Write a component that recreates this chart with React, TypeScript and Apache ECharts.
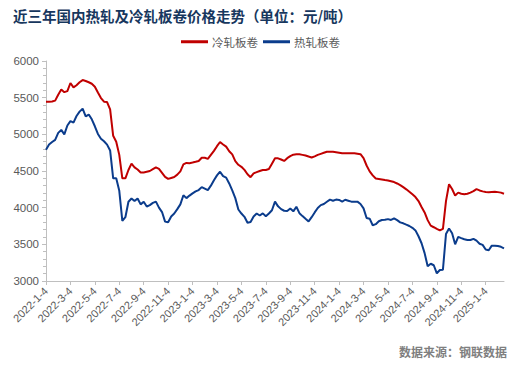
import React, { useEffect, useRef } from "react";
import * as echarts from "echarts";

const titleText = "近三年国内热轧及冷轧板卷价格走势（单位：元/吨）";
const sourceText = "数据来源：钢联数据";
const seriesNames = ["冷轧板卷", "热轧板卷"];

const tickLabels = [
  "2022-1-4", "2022-3-4", "2022-5-4", "2022-7-4", "2022-9-4", "2022-11-4",
  "2023-1-4", "2023-3-4", "2023-5-4", "2023-7-4", "2023-9-4", "2023-11-4",
  "2024-1-4", "2024-3-4", "2024-5-4", "2024-7-4", "2024-9-4", "2024-11-4",
  "2025-1-4",
];
const endDate = "2025-2-19";
const stepsPerTick = 8;

const coldRolled = [
  5445, 5445, 5448, 5460, 5540, 5610, 5575, 5590, 5700, 5640,
  5670, 5710, 5740, 5727, 5710, 5690, 5650, 5570, 5495, 5445,
  5440, 5340, 4980, 4900, 4720, 4400, 4400, 4514, 4600, 4550,
  4520, 4480, 4480, 4490, 4500, 4525, 4550, 4530, 4475, 4420,
  4392, 4405, 4418, 4450, 4495, 4590, 4610, 4607, 4615, 4625,
  4637, 4680, 4680, 4665, 4720, 4775, 4838, 4895, 4862, 4832,
  4770, 4727, 4635, 4585, 4557, 4515, 4455, 4415, 4468, 4484,
  4500, 4514, 4514, 4527, 4600, 4673, 4673, 4657, 4637, 4675,
  4703, 4723, 4727, 4727, 4720, 4711, 4697, 4684, 4700, 4720,
  4734, 4748, 4762, 4764, 4763, 4757, 4750, 4742, 4741, 4741,
  4741, 4741, 4735, 4729, 4675, 4575, 4495, 4440, 4397, 4392,
  4385, 4377, 4370, 4360, 4349, 4330, 4308, 4280, 4250, 4217,
  4182, 4145, 4090, 4010, 3935, 3830, 3755, 3733, 3710, 3690,
  3712, 4090, 4320, 4255, 4165, 4205, 4190, 4184, 4190, 4205,
  4225, 4253, 4235, 4222, 4215, 4210, 4214, 4217, 4212, 4205,
  4190,
];

const hotRolled = [
  4790, 4860, 4895, 4925, 5020, 5060, 5000, 5120, 5180, 5160,
  5250, 5310, 5350, 5245, 5270, 5205, 5110, 5005, 4940, 4905,
  4860, 4780, 4400, 4400, 4230, 3820, 3870, 4080, 4125, 4090,
  4125, 4045, 4080, 4015, 4035, 4065, 4082, 4000, 3940, 3810,
  3800, 3880, 3920, 3980, 4045, 4170, 4130, 4165, 4195, 4222,
  4240, 4280, 4260, 4240, 4300, 4375, 4440, 4490, 4430, 4410,
  4330, 4235, 4130, 3975, 3920, 3875, 3795, 3805, 3880, 3920,
  3893, 3922, 3882, 3920, 3965, 4082, 4018, 3980, 3958, 3955,
  3988, 3950, 4012, 3925, 3885, 3848, 3812, 3870, 3935, 3995,
  4035, 4050, 4080, 4110, 4095, 4110, 4105, 4083, 4108, 4095,
  4082, 4082, 4082, 4050, 3990, 3860, 3850, 3760, 3775, 3815,
  3832, 3834, 3844, 3833, 3855, 3830, 3800, 3787, 3768, 3750,
  3725, 3690, 3610, 3515, 3380, 3200, 3235, 3215, 3105, 3150,
  3155, 3640, 3715, 3650, 3500, 3602, 3585, 3570, 3559, 3559,
  3575, 3550, 3508, 3492, 3430, 3420, 3482, 3482, 3476, 3466,
  3445,
];

const yMin = 3000;
const yMax = 6000;
const yInterval = 500;

function parseDate(s: string): number {
  const [y, m, d] = s.split("-").map(Number);
  return Date.UTC(y, m - 1, d);
}
function fmtDate(t: number): string {
  const dt = new Date(t);
  return `${dt.getUTCFullYear()}-${dt.getUTCMonth() + 1}-${dt.getUTCDate()}`;
}

function buildCategories(n: number): string[] {
  const cats: string[] = [];
  const anchors = [...tickLabels, endDate];
  for (let k = 0; k < tickLabels.length; k++) {
    const a = parseDate(anchors[k]);
    const b = parseDate(anchors[k + 1]);
    const isLast = k === tickLabels.length - 1;
    const steps = isLast ? n - 1 - k * stepsPerTick : stepsPerTick;
    const count = isLast ? steps + 1 : stepsPerTick;
    for (let j = 0; j < count; j++) {
      if (j === 0) cats.push(tickLabels[k]);
      else cats.push(fmtDate(a + ((b - a) * j) / steps + j * 3600000));
    }
  }
  return cats.slice(0, n);
}

export default function App() {
  const ref = useRef<HTMLDivElement>(null);
  useEffect(() => {
    if (!ref.current) return;
    const chart = echarts.init(ref.current, undefined, { renderer: "svg" });
    const categories = buildCategories(coldRolled.length);
    const axisColor = "#BFBFBF";
    const labelColor = "#595959";
    chart.setOption({
      animation: false,
      backgroundColor: "#ffffff",
      title: {
        text: titleText,
        left: 8,
        top: 3,
        textStyle: {
          fontFamily: "Noto Sans CJK SC",
          fontSize: 14.5,
          fontWeight: "bold",
          color: "#17375E",
        },
      },
      legend: {
        data: seriesNames,
        left: 176,
        top: 31,
        icon: "rect",
        itemWidth: 27,
        itemHeight: 3,
        itemGap: 5,
        textStyle: {
          fontFamily: "Noto Sans CJK SC",
          fontSize: 11.5,
          color: labelColor,
          padding: [0, 0, 0, -1],
        },
      },
      graphic: [
        {
          type: "text",
          right: 10,
          top: 345,
          style: {
            text: sourceText,
            fill: "#7F7F7F",
            font: "bold 12px 'Noto Sans CJK SC'",
          },
        },
      ],
      grid: {
        left: 46,
        right: 13,
        top: 61,
        bottom: 90,
        containLabel: false,
      },
      xAxis: {
        type: "category",
        data: categories,
        boundaryGap: false,
        axisLine: { show: true, lineStyle: { color: axisColor, width: 1 } },
        axisTick: {
          show: true,
          interval: stepsPerTick - 1,
          length: 4,
          lineStyle: { color: axisColor },
        },
        axisLabel: {
          interval: stepsPerTick - 1,
          rotate: 45,
          margin: 8,
          color: labelColor,
          fontSize: 11,
          fontFamily: "Liberation Sans",
        },
        splitLine: { show: false },
      },
      yAxis: {
        type: "value",
        min: yMin,
        max: yMax,
        interval: yInterval,
        axisLine: { show: true, lineStyle: { color: axisColor, width: 1 } },
        axisTick: { show: true, length: 4, lineStyle: { color: axisColor } },
        minorTick: { show: true, splitNumber: 5, length: 3, lineStyle: { color: axisColor } },
        axisLabel: {
          color: labelColor,
          fontSize: 11.5,
          margin: 7,
          fontFamily: "Liberation Sans",
          formatter: (v: number) => String(v),
        },
        splitLine: { show: false },
      },
      series: [
        {
          name: seriesNames[0],
          type: "line",
          data: coldRolled,
          symbol: "none",
          lineStyle: { color: "#C00000", width: 2 },
          itemStyle: { color: "#C00000" },
        },
        {
          name: seriesNames[1],
          type: "line",
          data: hotRolled,
          symbol: "none",
          lineStyle: { color: "#0B3C8C", width: 2 },
          itemStyle: { color: "#0B3C8C" },
        },
      ],
    });
    return () => chart.dispose();
  }, []);
  return <div ref={ref} style={{ width: 517, height: 371, margin: -8 }} />;
}
